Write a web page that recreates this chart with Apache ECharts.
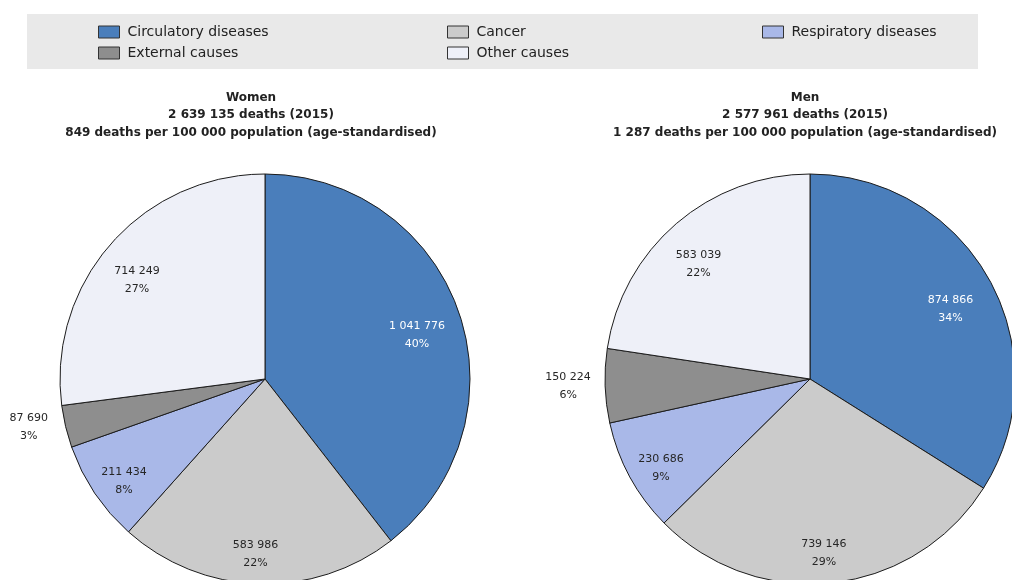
<!DOCTYPE html>
<html>
<head>
<meta charset="utf-8">
<title>Causes of death, women and men, 2015</title>
<script src="https://cdn.jsdelivr.net/npm/echarts@6/dist/echarts.min.js"></script>
<style>
  html, body { margin: 0; padding: 0; background: #ffffff; }
  #chart { width: 1012px; height: 580px; }
</style>
</head>
<body>
<div id="chart"></div>
<script>
// Causes of death, in order clockwise from 12 o'clock
const causes = ['Circulatory diseases', 'Cancer', 'Respiratory diseases', 'External causes', 'Other causes'];

// Number of deaths per cause, 2015
const womenDeaths = [1041776, 583986, 211434, 87690, 714249];
const menDeaths = [874866, 739146, 230686, 150224, 583039];

// Pie headings
const womenTitle = ['Women', '2 639 135 deaths (2015)', '849 deaths per 100 000 population (age-standardised)'];
const menTitle = ['Men', '2 577 961 deaths (2015)', '1 287 deaths per 100 000 population (age-standardised)'];

// Legend columns
const legendColumns = [
  ['Circulatory diseases', 'External causes'],
  ['Cancer', 'Other causes'],
  ['Respiratory diseases']
];

const sliceColors = {
  'Circulatory diseases': '#4a7ebb',
  'Cancer': '#cbcbcb',
  'Respiratory diseases': '#a9b8e8',
  'External causes': '#8e8e8e',
  'Other causes': '#eef0f8'
};

const FONT = '"DejaVu Sans", "Liberation Sans", Arial, sans-serif';
const R = 205;

// 1041776 -> "1 041 776"
function spaced(n) {
  return String(n).replace(/\B(?=(\d{3})+(?!\d))/g, ' ');
}
function labelText(p) {
  return spaced(p.value) + '\n' + p.percent + '%';
}
// Outside labels: both lines centred in a fixed-width block
function outsideLabelText(p) {
  return '{c|' + spaced(p.value) + '}\n{c|' + p.percent + '%}';
}

// Slices with their outlines; the small external-causes slice carries its label outside
function sliceData(values) {
  return causes.map((name, i) => ({
    name: name,
    value: values[i],
    itemStyle: { color: sliceColors[name] },
    label: name === 'External causes'
      ? { show: true, position: 'outside' }
      : { show: false }
  }));
}

// Transparent ring used only to carry the inner labels at about 0.8 of the radius
function labelData(values) {
  return causes.map((name, i) => ({
    name: name,
    value: values[i],
    label: {
      show: name !== 'External causes',
      color: name === 'Circulatory diseases' ? '#ffffff' : '#262626'
    }
  }));
}

function pieSeries(values, center) {
  return [
    {
      type: 'pie',
      center: center,
      radius: [0, R],
      startAngle: 90,
      clockwise: true,
      percentPrecision: 0,
      avoidLabelOverlap: false,
      animation: false,
      itemStyle: { borderColor: '#1c1c1c', borderWidth: 1 },
      emphasis: { disabled: true },
      label: {
        formatter: outsideLabelText,
        color: '#262626',
        fontFamily: FONT,
        fontSize: 11,
        rich: {
          c: { width: 44, align: 'center', fontFamily: FONT, fontSize: 11, lineHeight: 18, color: '#262626' }
        }
      },
      labelLine: { show: false, length: 4, length2: 6 },
      data: sliceData(values)
    },
    {
      type: 'pie',
      center: center,
      radius: [R * 0.58, R],
      startAngle: 90,
      clockwise: true,
      percentPrecision: 0,
      silent: true,
      animation: false,
      itemStyle: { color: 'rgba(0,0,0,0)', borderWidth: 0 },
      emphasis: { disabled: true },
      label: {
        position: 'inside',
        formatter: labelText,
        fontFamily: FONT,
        fontSize: 11,
        lineHeight: 18,
        offset: [-4, 10]
      },
      labelLine: { show: false },
      data: labelData(values)
    }
  ];
}

function titleBlock(lines, x) {
  return {
    text: lines.join('\n'),
    left: x,
    top: 84,
    textAlign: 'center',
    textStyle: {
      fontFamily: FONT,
      fontSize: 12,
      fontWeight: 'bold',
      color: '#222222',
      lineHeight: 17.5
    }
  };
}

const legendLefts = [98, 447, 762];

const chart = echarts.init(document.getElementById('chart'), null, { renderer: 'canvas' });
chart.setOption({
  backgroundColor: '#ffffff',
  animation: false,
  graphic: [{
    type: 'rect',
    z: -10,
    shape: { x: 27, y: 14, width: 951, height: 55 },
    style: { fill: '#e9e9e9' }
  }],
  title: [titleBlock(womenTitle, 246), titleBlock(menTitle, 800)],
  legend: legendColumns.map((col, i) => ({
    data: col.map(name => ({ name: name, icon: 'rect' })),
    orient: 'vertical',
    left: legendLefts[i],
    top: 25,
    padding: 0,
    itemWidth: 21,
    itemHeight: 12,
    itemGap: 7,
    selectedMode: false,
    textStyle: { fontFamily: FONT, fontSize: 14, color: '#222222', padding: [0, 0, 0, 3] },
    itemStyle: { borderColor: '#333333', borderWidth: 1 }
  })),
  series: [
    ...pieSeries(womenDeaths, [265, 379]),
    ...pieSeries(menDeaths, [810, 379])
  ]
});
</script>
</body>
</html>
